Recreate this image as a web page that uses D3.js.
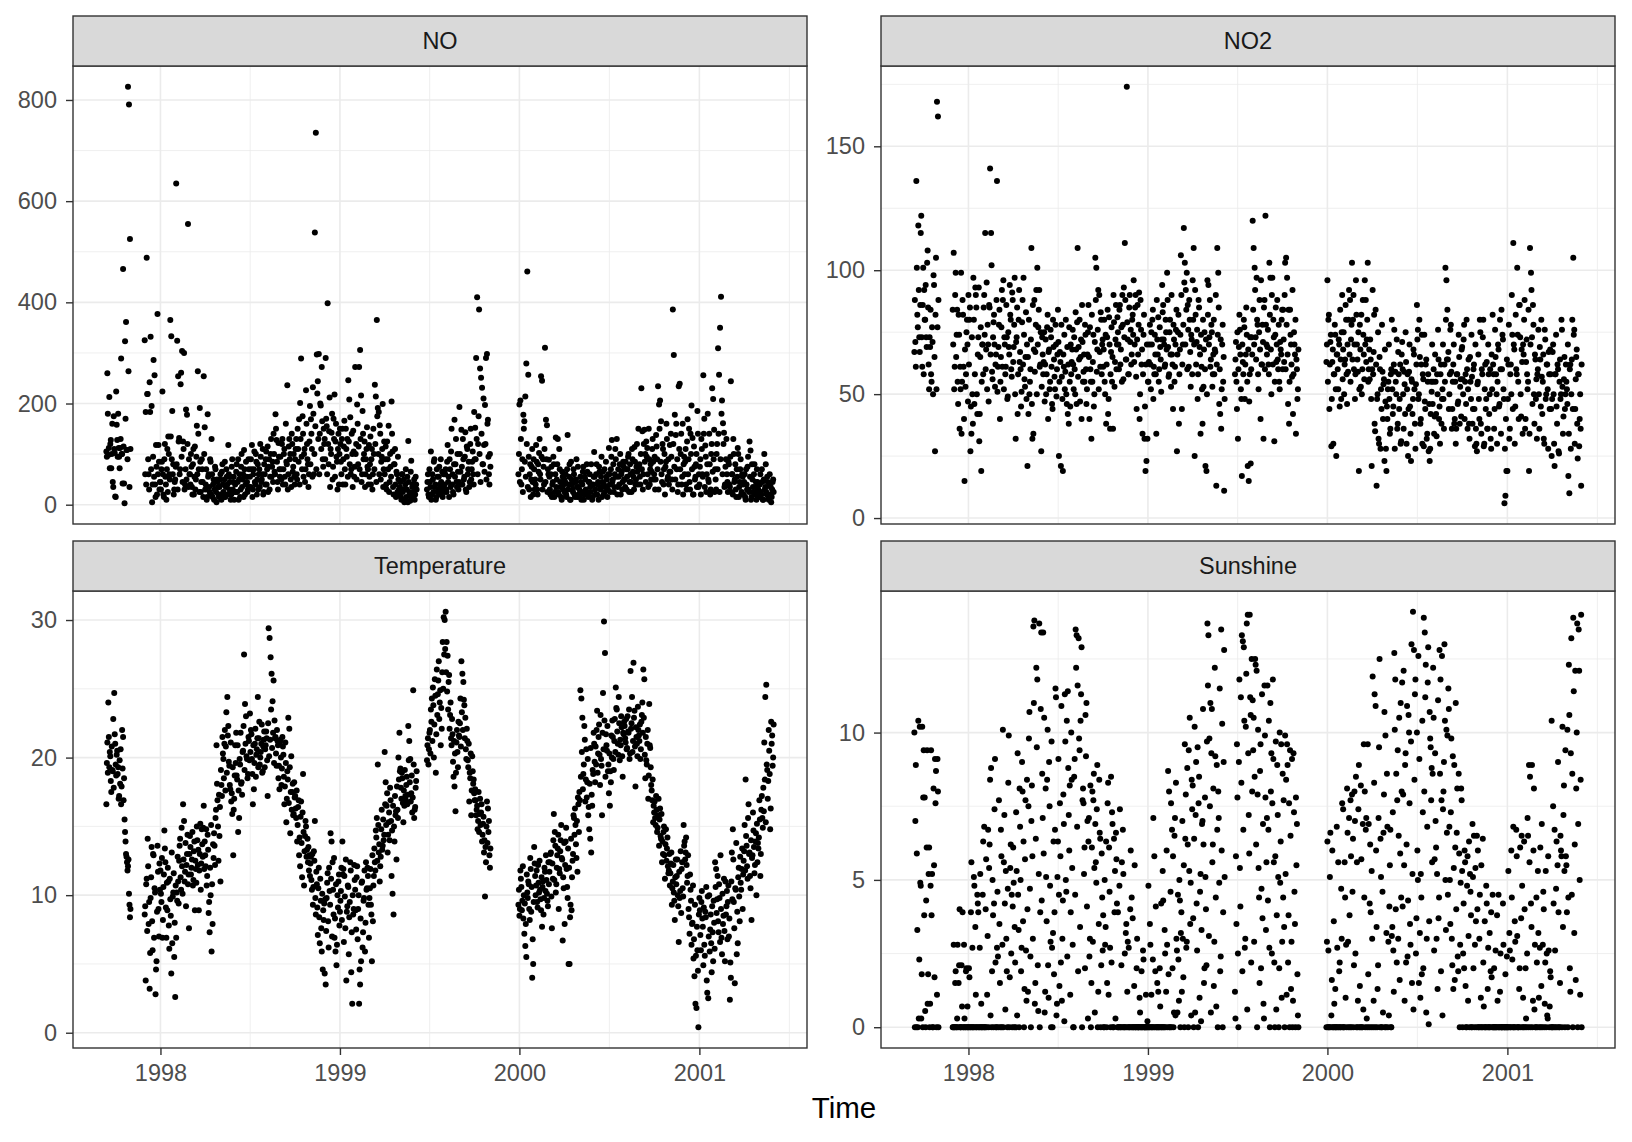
<!DOCTYPE html>
<html>
<head>
<meta charset="utf-8">
<script src="https://cdn.jsdelivr.net/npm/d3@7"></script>
<style>
  body { margin: 0; background: #ffffff; }
  svg { display: block; }
  text { font-family: "Liberation Sans", Arial, Helvetica, sans-serif; }
</style>
</head>
<body>
<svg id="chart" width="1632" height="1142"></svg>
<script>
// ---------------- DATA ----------------
// Daily series. "Even" arrays hold days start+0,2,4,...; "Odd" arrays hold days start+1,3,5,...
const sampleStepDays = 2;
const segmentStarts = ["1997-09-13","1997-11-30","1998-01-01","1998-02-02","1998-03-02","1998-04-01","1998-05-01","1998-06-02","1998-07-02","1998-08-01",
  "1998-09-02","1998-10-02","1998-11-01","1998-12-01","1999-01-02","1999-02-01","1999-03-01","1999-04-02","1999-05-02","1999-06-27",
  "1999-08-02","1999-09-01","1999-10-03","1999-12-30","2000-02-02","2000-03-01","2000-04-02","2000-05-02","2000-06-01","2000-07-01",
  "2000-08-02","2000-09-01","2000-10-01","2000-11-02","2000-12-02","2001-01-01","2001-02-02","2001-03-02","2001-04-01","2001-05-01"];

const panelNames = ["NO", "NO2", "Temperature", "Sunshine"];
const xAxisTitle = "Time";
const yearTicks = ["1998", "1999", "2000", "2001"];
const noTicks = [0, 200, 400, 600, 800];
const no2Ticks = [0, 50, 100, 150];
const tempTicks = [0, 10, 20, 30];
const sunTicks = [0, 5, 10];

const noValues = [
  [105,260,98,213,120,72,160,35,110,16,224,128,180,95,112,289,100,466,42,323,361,108,826,791,525],
  [325,183,488,219,60,242,332,195,40,286,256,15,75,377,118,30],
  [45,70,224,20,90,55,10,110,135,60,365,333,185,80,30,50],
  [635,324,254,132,70,261,304,125,300,40,188,178,555,90],
  [60,100,35,80,20,115,50,156,264,70,191,25,90,45,254],
  [153,40,10,179,60,25,85,130,15,50,30,70,5,45,20],
  [35,60,10,80,25,50,15,70,40,118,30,55,20,90,45,10],
  [40,65,25,90,50,15,75,35,60,108,20,85,45,30,70],
  [55,90,118,30,70,45,100,20,80,60,35,95,50,110,25],
  [60,90,40,115,75,30,100,55,85,140,65,179,128,45,122,70],
  [95,50,130,70,110,40,85,236,60,130,100,35,120,75,55],
  [90,130,50,110,169,201,289,70,140,100,45,226,120,80,60],
  [195,169,110,232,60,538,735,297,244,298,140,196,272,90,150],
  [130,290,155,398,80,212,110,142,50,170,218,125,95,30,140,100],
  [120,60,150,90,166,40,110,130,246,208,173,70,100,146,55],
  [272,120,198,80,272,306,216,60,140,100,35,90,153,70],
  [118,80,40,110,60,100,237,214,365,191,183,157,50,95,199,70],
  [60,115,30,90,156,45,75,204,105,20,80,40,65,25,50],
  [20,45,10,60,30,5,40,15,55,126,25,8,87,35,12,50,20,40],
  [30,60,15,45,105,20,50,85,35,10,70,25,55,40,90,30,15,60],
  [40,70,25,118,55,90,35,150,60,20,168,80,45,100,30],
  [193,65,148,40,90,55,143,25,110,70,35,120,50,85,60,183],
  [152,290,410,120,386,269,251,231,80,118,197,290,298,168,60,100],
  [60,198,206,40,90,178,165,214,279,461,257,30,80,50,110,20,70],
  [50,118,30,80,102,60,254,245,90,40,310,168,157,70],
  [89,30,60,15,45,80,25,133,50,130,20,70,35,10,55,40],
  [25,60,15,138,40,80,10,50,30,70,20,45,90,15,35],
  [30,55,10,40,75,20,50,25,65,15,45,35,80,10,40],
  [104,30,60,20,45,75,35,55,15,65,40,25,85,50,30],
  [112,40,70,128,50,25,60,90,130,35,55,80,20,65,45,75],
  [50,85,30,70,100,45,60,25,90,55,114,40,75,65,150],
  [80,40,230,145,60,148,100,125,112,35,90,70,50,110,85],
  [60,30,138,90,234,198,206,165,45,110,70,20,85,130,55,40],
  [118,140,50,386,296,178,138,70,25,234,239,100,40,160,80],
  [60,110,30,169,90,45,140,196,132,20,75,55,100,185,35],
  [40,90,130,60,256,170,117,25,80,50,140,20,100,230,209,148],
  [70,30,120,309,257,350,411,206,161,142,40,90,60,25],
  [80,35,244,60,20,100,50,30,70,112,15,45,90,25,55],
  [20,60,10,40,75,30,125,107,15,50,25,80,35,10,45],
  [30,15,60,20,45,10,100,35,25,55,15,40,20,5,30,50]
];
const noValuesOdd = [
  [95,180,112,72,128,100,45,175,102,15,158,95,112,72,130,100,42,115,3,170,108,90,264,35,110],
  [60,40,219,90,30,183,70,5,95,55,40,118,20,60,85,45],
  [30,85,60,15,120,40,70,25,100,50,135,90,60,20,45,75],
  [80,30,125,60,238,95,45,110,30,70,50,120,35,60],
  [40,75,20,110,55,30,95,60,140,25,85,45,70,15,100],
  [30,70,15,55,35,90,20,60,40,10,75,25,50,35,15],
  [50,20,65,40,15,85,35,55,20,60,45,10,75,30,55,25],
  [25,80,45,10,60,30,100,50,15,70,40,55,25,90,35],
  [35,70,15,60,105,40,85,50,30,70,120,45,60,20,80],
  [40,105,70,25,90,55,130,75,45,100,60,150,85,30,95,55],
  [70,120,40,100,55,160,80,30,115,90,50,140,65,100,40],
  [110,60,150,85,40,130,95,175,55,110,70,160,90,35,125],
  [80,140,55,180,100,155,70,220,130,60,200,110,165,75,120],
  [90,170,60,120,145,35,100,180,75,130,55,160,85,110,40,150],
  [85,130,40,115,70,150,95,55,125,80,60,140,35,105,75],
  [100,50,160,115,70,130,45,185,90,125,60,110,75,40],
  [55,135,90,30,150,70,120,45,175,100,60,140,85,110,35,125],
  [90,40,125,70,25,100,55,140,35,80,110,15,60,95,30],
  [35,15,60,25,50,10,70,30,5,45,20,65,15,40,25,10,55,30],
  [45,20,70,35,10,60,25,90,40,15,55,30,75,20,45,65,35,25],
  [60,30,85,45,15,70,105,40,25,80,55,130,35,65,45],
  [100,40,75,130,50,95,30,115,60,85,45,150,70,105,40,90],
  [90,130,60,175,100,45,140,80,210,65,120,50,160,95,40,75],
  [100,45,130,70,25,150,85,55,120,35,95,60,15,75,45,90,30],
  [40,85,20,65,130,50,95,30,75,110,45,90,25,60],
  [55,20,75,40,95,15,60,35,80,25,110,45,15,65,30,50],
  [45,20,70,30,55,10,85,40,25,60,15,50,35,75,20],
  [15,45,25,65,10,55,30,80,20,45,60,25,40,15,55],
  [55,20,80,40,10,65,30,95,45,20,70,35,55,15,60],
  [60,25,95,45,80,35,110,55,20,70,40,100,60,30,85,50],
  [35,70,55,95,25,80,45,110,65,30,85,50,120,40,75],
  [55,100,70,30,120,85,45,95,60,150,40,80,65,130,50],
  [95,50,115,70,30,150,85,60,120,40,100,75,160,50,90,65],
  [65,95,30,120,75,50,160,90,40,110,70,140,55,20,95],
  [85,40,125,60,150,30,100,70,20,115,50,80,35,140,60],
  [75,20,110,55,140,35,95,60,180,45,80,30,120,65,90,25],
  [50,100,70,140,25,90,180,60,120,35,75,130,45,85],
  [40,95,25,60,130,45,80,15,55,100,35,70,20,60,40],
  [45,15,70,30,95,25,55,10,80,35,60,20,45,70,25],
  [15,40,25,70,10,50,30,80,20,45,10,60,35,15,45,25]
];

const no2Values = [
  [67,71,136,82,118,73,86,122,61,101,92,80,73,103,85,52,69,58,77,50,94,27,105,168,162],
  [84,107,61,99,74,55,82,36,52,34,88,61,15,53,75,70],
  [90,80,27,34,50,97,46,93,85,42,73,31,65,19,70,58],
  [90,115,68,52,70,86,141,115,59,73,82,53,66,136],
  [61,78,40,65,92,88,52,70,61,73,49,69,94,80,57],
  [88,69,97,32,73,42,80,63,60,51,88,97,56,65,48],
  [21,42,50,60,109,32,34,88,67,92,101,77,92,62,27,73],
  [58,75,62,50,77,40,68,55,73,46,80,64,52,70,60],
  [84,25,67,21,57,19,61,52,80,46,42,38,55,70,63],
  [76,52,60,83,46,109,69,80,65,40,71,59,55,74,46,66],
  [86,40,60,32,55,74,50,105,101,68,92,90,61,80,70],
  [61,80,50,38,73,42,81,36,67,55,36,79,63,86,70],
  [75,60,86,68,55,78,93,111,64,174,72,58,90,76,66],
  [82,96,70,90,44,86,78,40,88,62,34,74,32,19,23,32],
  [55,70,62,75,80,48,58,66,34,72,81,60,69,51,94],
  [86,70,62,75,99,69,58,80,53,66,44,72,61,76],
  [27,75,38,68,106,44,70,117,103,92,99,86,61,80,53,72],
  [96,109,25,82,71,48,88,69,34,61,38,53,75,21,19],
  [96,94,73,61,78,53,66,58,67,13,109,99,46,42,36,70,55,11],
  [58,71,44,32,69,76,52,17,63,80,48,66,74,21,15,58,22,73],
  [120,109,101,73,97,78,52,88,40,62,78,32,88,122,70],
  [69,62,103,97,50,97,80,31,74,63,88,60,55,71,66,84],
  [84,63,103,105,97,46,38,84,70,57,42,75,66,34,60,52],
  [63,96,80,44,71,29,63,30,58,74,25,66,52,70,84,48,90],
  [68,50,64,80,46,59,92,88,72,103,80,60,48,96],
  [70,59,19,78,53,50,88,66,96,88,72,103,60,56,64,21],
  [92,67,38,84,13,50,32,65,28,44,59,54,23,47,19],
  [40,55,48,36,60,52,45,76,59,50,36,67,44,62,31],
  [71,50,59,42,63,52,25,59,45,23,55,48,66,38,54],
  [86,76,50,65,40,74,58,29,47,62,32,55,27,23,42,51],
  [46,60,41,55,33,50,64,45,58,38,52,48,62,101,96],
  [84,67,50,76,59,44,62,38,55,36,58,47,65,53,41],
  [69,50,78,55,46,60,52,38,65,48,57,44,62,29,36,27],
  [55,48,80,38,60,73,29,52,44,63,36,58,50,32,66],
  [82,58,44,65,50,55,68,46,60,84,74,52,6,9,19],
  [19,62,32,58,50,74,111,68,45,60,101,55,86,73,41,63],
  [70,80,36,63,58,55,19,109,99,73,86,50,66,48],
  [32,60,50,69,45,57,55,32,76,48,62,52,67,44,58],
  [25,67,50,21,58,45,62,27,55,48,80,53,41,65,50],
  [55,46,17,10,62,50,80,105,76,44,65,38,58,29,50,13]
];
const no2ValuesOdd = [
  [88,61,101,77,92,67,115,73,86,58,80,94,69,108,62,73,84,55,71,98,65,82,52,77,88],
  [70,52,90,65,84,46,74,61,99,55,82,40,68,58,80,47],
  [62,85,45,73,38,80,58,90,50,66,93,42,77,55,70,85],
  [74,60,95,78,47,85,66,102,56,79,70,62,88,51],
  [69,84,55,77,61,96,73,58,86,48,75,66,82,60,91],
  [63,78,50,71,85,58,92,67,45,79,62,74,53,83,70],
  [65,80,55,72,46,86,68,59,78,50,70,84,61,75,53,66],
  [63,47,72,58,82,67,52,76,61,44,69,57,78,49,66],
  [71,55,63,78,48,66,74,59,50,69,62,77,45,58,68],
  [62,73,50,68,79,57,64,47,72,86,55,66,78,60,52,75],
  [65,77,55,82,63,45,71,88,59,76,52,67,83,58,72],
  [68,55,74,62,84,48,70,58,77,65,90,53,72,60,81],
  [70,84,62,77,90,56,73,88,64,79,58,85,71,62,80],
  [74,63,85,57,72,66,91,50,76,68,58,82,45,62,70,55],
  [63,78,52,70,84,61,74,58,88,66,55,77,64,72,83],
  [72,61,80,68,88,57,75,66,90,62,78,55,70,84],
  [66,82,58,74,90,62,78,95,70,84,60,76,88,67,74,58],
  [80,70,92,62,76,58,85,66,74,52,80,68,60,72,50],
  [82,70,88,64,75,58,80,68,90,62,74,85,60,72,52,78,65,48],
  [64,55,75,60,82,66,48,70,58,77,62,85,55,68,47,73,60,66],
  [84,70,92,64,80,58,75,68,96,62,71,85,60,78,66],
  [76,58,82,68,90,62,73,55,85,70,64,78,52,68,80,60],
  [72,90,60,78,66,84,55,74,62,92,58,70,80,64,48,68],
  [70,55,82,62,74,48,68,58,78,52,66,60,72,45,64,75,56],
  [75,62,86,58,70,80,66,55,78,64,90,70,58,82],
  [64,75,52,68,82,60,74,56,70,63,80,55,68,72,48,60],
  [58,82,35,62,48,75,30,60,52,78,40,56,68,28,45],
  [52,70,34,58,80,42,62,28,55,72,38,58,48,30,66],
  [60,36,54,75,30,58,44,70,34,56,42,68,52,28,62],
  [72,48,80,38,62,30,56,74,44,64,34,58,46,28,55,70],
  [55,34,66,42,58,76,40,30,62,48,70,36,55,80,64],
  [64,44,58,78,36,55,70,40,30,58,46,74,38,56,68],
  [56,72,40,58,80,36,64,32,55,74,38,60,44,70,30,54],
  [66,40,75,34,58,80,30,62,48,36,70,42,60,28,52],
  [62,36,76,58,30,70,45,80,34,60,72,48,28,40,64],
  [48,78,36,62,90,44,70,30,82,58,74,40,86,50,68,34],
  [66,88,40,72,52,84,34,70,92,46,78,38,64,56],
  [58,76,36,64,80,42,66,30,72,50,62,28,58,68,44],
  [48,70,30,58,74,38,60,26,64,50,76,34,56,44,62],
  [52,70,34,60,28,64,44,74,30,56,68,24,58,40,36,62]
];

const temperatureValues = [
  [16.6,21.1,24.0,19.3,20.1,17.5,19.1,22.8,24.7,21.0,18.7,20.5,19.3,17.2,18.1,16.6,22.0,21.5,18.5,14.6,13.0,12.4,12.1,10.1,8.4],
  [8.6,3.8,11.2,14.1,7.9,3.2,9.8,13.5,6.0,12.9,10.5,2.8,5.2,13.6,9.0,12.3],
  [11.8,9.5,6.9,10.6,14.7,12.4,6.9,8.9,11.0,6.1,9.7,4.3,6.5,10.2,5.5,2.6],
  [6.9,9.6,11.0,12.5,14.1,10.4,12.1,16.6,15.4,11.7,9.2,13.0,10.8,7.6],
  [14.3,11.5,12.6,10.7,13.2,8.9,11.9,15.0,12.2,8.9,13.0,10.4,14.8,12.8,16.5],
  [13.9,12.1,10.7,14.4,8.7,7.3,10.0,5.9,7.9,12.7,13.6,15.6,20.9,16.9,12.5],
  [14.3,11.0,18.0,21.5,19.9,21.0,17.6,23.3,24.4,22.3,19.4,17.7,16.8,15.9,12.9,17.0],
  [20.9,21.8,18.4,14.6,15.6,19.5,18.1,17.3,20.5,27.5,23.9,23.0,19.9,18.8,21.2],
  [23.2,22.0,19.9,16.6,17.7,21.0,18.6,20.6,24.4,21.4,19.5,20.4,22.4,19.0,21.3],
  [19.3,20.9,21.4,17.2,29.4,28.7,27.3,26.1,24.1,25.6,22.7,21.5,19.4,21.2,18.5,17.7],
  [21.3,18.0,21.5,20.2,16.6,21.1,15.3,19.0,22.9,22.1,14.5,20.1,17.5,15.8,18.2],
  [17.2,15.6,13.9,16.4,12.9,12.1,16.8,11.3,18.8,10.7,14.3,15.0,13.3,12.4,11.8],
  [11.4,12.8,10.4,9.3,13.2,15.4,8.6,10.8,7.1,12.0,6.5,9.6,5.9,4.6,8.2],
  [4.3,3.5,9.8,11.6,6.2,10.3,14.5,13.9,12.4,8.6,6.9,5.9,4.9,10.0,11.0,7.8],
  [9.6,12.0,13.9,11.9,11.4,7.6,3.8,9.2,10.6,8.4,12.4,4.4,2.1,8.6,12.2],
  [10.4,7.5,12.1,9.0,2.1,3.5,5.2,11.0,7.3,9.8,5.9,12.4,10.5,11.4],
  [6.9,10.5,9.3,5.2,8.1,11.4,12.4,14.7,15.6,19.5,13.1,11.0,12.8,16.2,13.6,14.0],
  [20.4,18.2,16.5,13.1,15.3,14.0,16.9,11.4,10.1,8.6,13.9,15.8,12.6,16.2,20.0],
  [21.8,19.2,17.0,18.5,15.3,16.5,17.2,18.0,16.6,22.3,21.2,19.9,17.4,16.0,24.9,15.6,16.4,18.3],
  [19.8,21.4,20.6,22.0,23.5,24.3,25.1,20.0,25.7,18.9,26.4,24.6,27.0,24.0,20.9,22.1,28.4,30.2],
  [30.0,30.6,28.4,27.4,25.5,22.1,24.0,20.9,21.7,18.6,17.9,16.1,21.1,20.4,22.6],
  [21.5,24.3,27.0,26.1,25.5,23.8,22.9,19.9,21.2,19.3,16.8,18.5,15.8,20.1,18.1,17.4],
  [17.7,15.8,16.5,15.4,14.6,17.0,16.0,13.9,15.2,13.1,9.9,12.4,16.8,16.3,15.4,12.0],
  [9.3,8.5,11.8,10.6,9.6,8.3,7.2,6.3,5.5,10.2,11.0,9.0,12.7,8.8,4.0,5.0,13.5],
  [11.4,10.7,9.5,12.2,10.2,10.4,8.9,7.7,11.0,9.8,11.7,12.9,10.1,9.2],
  [10.8,12.4,13.1,7.6,11.2,15.9,14.6,10.2,12.0,13.4,9.0,11.6,14.0,12.7,6.7,10.5],
  [7.9,13.9,11.9,9.8,5.0,5.0,9.3,8.9,12.5,15.8,14.4,15.1,12.7,11.7,16.6],
  [17.5,24.9,24.3,22.9,18.8,22.3,16.8,20.6,18.2,15.8,14.8,14.1,13.1,16.5,18.8],
  [21.0,18.2,19.5,23.4,20.3,22.4,18.0,19.9,15.8,24.7,29.9,27.6,21.7,20.5,19.0],
  [17.4,16.5,18.2,20.0,21.5,19.1,22.8,25.1,23.5,21.0,24.4,19.8,20.9,22.2,18.6,21.7],
  [22.3,21.1,20.6,23.0,21.8,19.9,26.3,22.5,20.4,26.9,23.4,17.9,21.5,20.1,22.0],
  [21.2,19.9,22.6,24.0,26.4,25.7,18.5,19.8,21.0,17.0,23.9,20.7,18.0,16.9,15.3],
  [16.0,15.6,17.2,14.6,15.8,13.6,16.3,14.1,12.4,13.0,15.0,11.2,14.8,13.4,12.1,11.8],
  [10.7,12.3,9.3,11.0,10.2,8.2,12.6,11.4,10.0,6.6,9.8,13.2,11.9,10.5,15.1],
  [13.9,13.1,12.2,11.4,9.0,7.2,10.4,6.4,8.0,5.4,4.1,2.1,1.8,6.0,0.4],
  [9.8,7.1,9.5,8.3,4.9,6.4,8.8,10.6,2.9,2.5,10.0,7.5,6.5,9.2,5.2,8.0],
  [12.4,11.9,9.7,8.1,10.8,6.6,9.0,5.7,7.9,11.2,5.2,8.6,10.3,9.5],
  [7.0,2.4,4.0,13.1,14.8,9.5,3.6,10.4,5.7,6.5,12.0,8.1,10.9,11.9,9.0],
  [12.5,15.1,18.4,13.6,11.2,16.6,13.1,10.5,8.2,12.9,14.7,11.6,13.9,10.0,12.4],
  [13.4,16.9,11.4,16.2,15.6,17.8,21.1,24.4,25.3,19.1,18.3,20.5,14.8,22.6,21.6,20.0]
];
const temperatureValuesOdd = [
  [19.6,18.9,21.5,20.4,18.3,20.8,19.0,17.8,21.7,19.5,20.2,18.8,17.0,19.8,20.6,17.9,19.2,16.9,15.5,13.9,12.8,11.8,12.6,9.3,9.0],
  [9.2,10.8,7.4,12.1,9.5,5.8,11.3,8.1,13.0,6.9,10.2,4.6,8.8,11.7,7.0,10.4],
  [10.1,12.7,8.2,11.5,13.4,9.1,10.9,12.0,7.8,11.2,8.5,13.1,9.9,11.6,8.0,10.7],
  [10.2,12.8,9.4,13.6,11.3,14.9,10.1,12.6,11.0,13.8,12.2,14.4,11.5,13.0],
  [13.5,12.0,14.6,11.1,13.9,12.5,10.9,14.0,13.3,11.8,15.2,12.3,13.7,14.9,11.9],
  [12.9,14.8,11.4,13.3,9.5,12.0,15.1,10.8,13.7,14.5,12.2,16.2,18.1,15.0,17.3],
  [16.4,19.1,17.2,20.3,18.5,22.0,20.8,18.9,21.6,19.7,18.0,21.1,17.4,19.3,16.2,18.7],
  [19.6,18.7,20.9,17.6,19.9,21.8,18.2,20.4,22.3,19.1,21.0,20.1,18.5,21.5,19.8],
  [20.4,21.7,18.8,20.9,19.6,22.1,20.2,21.4,19.3,22.6,20.0,21.0,18.9,20.8,21.9],
  [20.6,21.9,19.8,22.5,20.1,21.3,23.5,20.7,21.8,19.6,21.4,20.3,22.0,20.9,19.4,21.1],
  [20.0,19.2,20.8,18.6,17.9,19.6,17.0,18.4,16.7,19.3,17.5,16.2,18.1,15.9,17.1],
  [16.3,17.6,15.1,16.9,14.2,15.7,13.8,16.0,14.6,13.2,15.4,12.8,14.1,13.5,12.9],
  [12.3,11.1,13.0,10.6,12.5,9.8,11.7,9.1,10.5,8.4,11.2,7.6,10.1,8.9,9.4],
  [9.7,7.4,10.9,8.1,12.0,9.3,11.2,7.0,10.4,12.7,8.3,10.8,6.4,9.1,11.5,8.8],
  [10.3,8.2,11.5,6.6,9.9,12.6,8.8,10.7,5.7,9.5,11.8,7.3,10.0,9.0,11.1],
  [8.9,11.3,6.8,10.0,4.6,8.3,10.9,6.2,9.6,11.8,8.0,10.4,12.0,9.3],
  [9.8,11.9,8.6,12.9,10.7,13.4,11.8,14.2,12.5,15.1,13.7,12.1,14.8,13.3,15.5,14.4],
  [16.6,15.1,17.4,14.4,16.0,17.8,15.4,14.7,16.5,15.0,17.2,16.1,17.9,15.6,18.4],
  [19.0,17.8,18.9,16.7,17.6,19.1,16.9,18.6,17.3,19.8,18.2,16.8,18.7,17.1,19.5,16.2,17.8,19.0],
  [20.9,19.5,21.8,20.3,22.6,21.2,23.8,22.4,24.5,21.7,23.1,25.6,22.8,24.9,23.6,26.2,25.0,27.5],
  [27.9,26.2,24.8,23.5,26.0,23.1,21.4,22.8,19.7,21.2,20.3,18.9,22.0,19.3,21.6],
  [22.5,20.8,23.3,22.0,24.2,21.4,20.6,22.1,19.8,21.0,18.9,20.3,17.6,19.0,18.4,16.9],
  [16.9,16.2,14.8,17.5,15.9,15.1,16.6,14.4,15.7,14.0,13.5,15.0,13.8,14.6,12.9,13.4],
  [10.4,9.0,11.2,8.9,12.1,10.0,9.4,7.9,11.5,9.8,10.8,8.2,11.9,10.6,6.8,9.5,12.3],
  [10.0,11.8,9.1,10.9,12.5,9.7,11.3,10.6,8.6,12.0,10.3,11.1,9.6,12.4],
  [11.7,13.0,9.9,12.3,14.0,11.1,13.6,10.8,12.9,14.4,11.9,13.2,15.1,12.6,11.3,13.8],
  [12.2,14.9,10.6,13.4,12.0,8.4,14.1,11.3,13.0,15.6,16.3,13.7,15.4,17.1,14.6],
  [16.9,18.6,20.4,17.7,19.5,21.3,18.4,17.1,19.9,16.4,18.1,20.7,17.3,19.1,21.8],
  [19.7,20.8,22.0,18.9,21.5,20.2,23.1,19.4,21.8,20.6,22.7,18.6,20.9,22.3,19.5],
  [20.3,19.0,21.6,22.7,19.9,21.2,20.4,23.6,21.9,20.2,22.5,21.3,23.0,20.1,21.8,22.6],
  [21.4,22.8,20.7,21.9,23.5,20.3,22.1,24.4,21.2,22.9,20.8,22.2,21.0,23.7,21.6],
  [22.4,20.6,23.1,21.8,22.9,20.2,21.5,19.5,22.0,18.7,20.9,19.3,17.6,18.4,16.5],
  [16.8,15.1,16.2,14.9,17.0,15.5,14.3,15.9,13.9,14.6,12.9,13.7,12.5,14.2,11.6,13.0],
  [11.6,13.1,10.5,12.2,9.6,11.3,10.8,12.6,9.2,11.7,10.3,8.7,12.4,9.9,13.6],
  [12.6,14.2,10.9,12.9,8.4,11.5,9.6,7.9,10.7,6.8,9.3,5.6,7.7,4.5,8.6],
  [8.9,6.0,10.3,7.7,9.1,5.6,8.4,3.8,9.9,7.0,5.9,8.6,4.4,7.3,9.6,6.1],
  [10.6,8.7,11.4,7.3,9.8,12.9,6.9,10.1,8.5,7.4,11.0,9.2,6.8,10.7],
  [8.3,5.1,11.0,9.7,12.6,7.6,10.5,13.8,8.8,11.3,9.9,12.8,10.4,13.4,11.5],
  [13.2,11.8,14.3,12.1,15.6,13.0,11.4,14.0,12.7,16.0,13.5,12.2,14.5,15.2,13.8],
  [14.2,15.5,13.0,17.2,14.9,16.1,18.4,15.3,19.5,17.0,22.0,18.8,16.3,21.0,19.4,22.4]
];

const sunshineValues = [
  [10.0,7.0,0,3.3,10.4,2.3,4.9,0.3,10.2,7.8,3.8,0.55,4.3,9.4,1.8,6.1,0.8,9.4,5.2,0,5.5,9.1,8.7,1.1,8.0],
  [0,2.8,0,1.9,0,2.8,1.5,4.0,0,2.1,3.9,0,0.3,0,2.0,0.7],
  [0,1.7,0,5.6,2.7,0,4.8,3.4,0,4.5,3.9,0,5.2,0.8,0,6.3],
  [6.8,0,5.7,1.1,6.7,5.4,8.4,8.8,1.9,3.8,4.2,9.1,0,2.7],
  [2.4,7.7,1.5,6.7,0,10.1,5.6,4.2,5.3,1.9,4.7,9.9,1.7,6.2,4.5],
  [4.1,4.9,3.4,0,5.3,9.3,3.3,8.1,5.0,2.7,8.0,6.3,1.3,7.7,0.9],
  [4.0,7.5,10.7,2.4,7.0,5.8,13.6,13.8,1.5,12.2,11.8,0.55,13.7,3.9,13.4,8.6],
  [13.4,10.5,1.2,5.1,8.4,2.1,9.0,4.8,0,2.7,3.2,1.8,6.7,11.2,0.8],
  [6.3,4.5,7.6,2.2,0.9,4.3,6.9,11.3,5.0,10.4,11.4,7.2,8.2,3.9,8.4],
  [2.8,0,9.1,13.5,13.3,11.6,13.2,9.4,10.4,12.9,7.7,7.6,6.1,10.6,11.0,7.0],
  [6.3,2.4,8.2,1.5,8.0,7.7,5.4,6.9,4.9,8.9,1.2,8.4,6.4,2.1,4.4],
  [3.8,0,2.8,6.3,1.5,8.3,6.1,2.7,8.5,7.3,0,6.4,5.3,6.6,4.2],
  [3.9,0,7.4,0,5.6,6.7,0,2.5,3.2,0,2.9,2.7,0,6.0,4.4],
  [3.7,0,5.5,0,2.0,0,0,1.0,0,1.9,0,2.3,0,0,0,0.2],
  [4.8,0,2.8,1.1,0,7.1,5.8,1.9,0,1.5,1.2,0,0.7,4.2,0],
  [4.3,0,2.5,1.2,2.8,8.7,8.0,0,7.6,6.7,5.8,0.5,7.1,8.3],
  [2.6,4.5,0.9,4.3,3.2,1.2,3.0,5.5,9.6,7.9,2.9,6.2,9.4,10.5,4.9,8.4],
  [8.2,0,10.2,7.2,4.2,9.5,7.6,1.0,5.2,3.3,7.0,6.2,2.0,5.1,2.1],
  [13.7,13.3,9.8,11.0,9.3,5.6,8.1,2.9,9.2,0.7,6.7,8.0,4.9,1.9,13.5,10.3,3.9,12.8],
  [1.2,5.8,9.6,2.5,9.0,5.4,11.2,13.3,13.1,12.9,2.7,10.2,13.7,14.0,7.2,14.0,10.6,12.5],
  [11.1,10.5,8.5,12.3,12.1,7.9,5.4,1.5,9.6,4.7,3.7,0.8,11.6,7.8,5.6],
  [11.6,6.7,2.7,11.0,9.3,7.6,9.1,2.2,5.8,0.6,8.9,5.1,2.0,4.9,9.6,2.9],
  [4.4,3.4,9.9,8.4,9.6,2.2,7.6,9.4,1.3,9.1,0.9,7.3,3.5,7.8,6.9,0.4],
  [0,6.3,2.6,0,6.6,0.4,6.0,0,0.8,1.3,0,2.7,5.6,1.9,0,4.7,7.6],
  [7.4,0,4.4,2.8,8.1,2.9,7.1,0,5.8,7.9,6.4,2.1,7.0,8.5],
  [5.6,0.9,8.9,1.4,8.2,0,6.9,9.6,8.0,6.7,0.3,9.6,6.9,4.2,3.9,5.3],
  [11.9,0.9,11.3,10.9,3.4,1.3,7.1,12.5,6.4,0,4.6,6.6,10.7,9.9,3.2],
  [6.8,2.9,4.1,6.7,0,3.4,2.6,12.7,11.8,8.6,7.7,3.0,10.5,5.9,4.4],
  [11.7,7.9,5.5,8.9,2.2,10.9,4.3,10.0,3.5,9.7,1.5,14.1,12.8,11.3,2.5],
  [10.0,5.0,1.5,3.2,5.2,1.8,7.3,13.9,13.4,12.3,3.0,11.7,0.1,10.7,9.5,8.8],
  [8.6,10.5,5.7,7.0,3.0,1.3,3.7,12.8,11.8,7.7,0.4,8.0,13.0,5.0,10.1],
  [9.9,11.5,6.8,3.5,9.8,2.1,1.3,8.9,6.1,4.0,8.1,1.9,5.9,2.8,8.1],
  [5.3,2.5,2.0,5.6,0,4.8,0.9,6.3,5.2,3.8,0,5.1,6.5,2.8,3.6,6.5],
  [6.0,0,4.5,1.0,0,6.4,0.7,3.6,0,4.2,1.3,0,3.2,1.9,1.7],
  [4.5,0,0,2.6,0,0.9,4.5,0,2.5,0,0,2.8,0,1.8,0],
  [0,5.3,3.2,0,6.0,2.3,6.8,0,2.9,6.7,3.1,0,1.3,6.1,3.7,4.8],
  [1.0,6.3,0,0.3,2.5,6.5,8.9,8.5,4.2,8.9,0.9,8.1,2.8,0],
  [2.2,5.3,1.0,2.7,0,6.9,2.8,4.0,0.8,5.3,2.5,0.3,2.6,0.7,1.7],
  [10.4,0,4.2,6.7,0,6.3,5.5,3.9,0,6.5,5.8,10.2,7.2,5.3,9.4],
  [5.5,10.1,4.4,10.6,1.2,13.2,8.6,13.9,3.2,12.1,8.1,13.7,6.9,12.1,1.1,14.0]
];
const sunshineValuesOdd = [
  [0,8.9,5.9,0,0.3,10.2,4.8,1.8,0,9.4,7.8,0,6.1,0.8,5.2,0,4.8,3.8,0,8.1,1.7,7.6,0,9.1,0],
  [0,0,1.5,0,0.3,0,2.1,0,0,0.7,0,2.8,0,1.9,0,0],
  [2.0,0,3.9,0,0,5.1,0,1.1,0,4.2,0,2.7,0,0,4.5,0],
  [0,4.0,0,3.1,0,6.2,0.4,0,5.0,0,7.4,2.2,0,4.6],
  [0,3.5,0,5.8,2.8,0,7.2,0.6,3.0,0,8.3,0,5.4,2.5,0],
  [6.1,0,2.2,7.3,0.4,4.5,0,6.8,1.9,9.0,3.6,0,5.7,2.6,8.4],
  [1.2,9.8,4.7,0,8.2,3.0,11.0,0.8,6.4,9.5,2.1,5.2,0,10.8,4.3,7.1],
  [5.9,0.5,8.1,3.6,10.1,1.0,7.5,2.9,9.7,0,6.3,3.9,11.5,0.4,5.1],
  [9.1,1.4,5.8,10.9,3.0,7.9,0.2,9.7,4.6,2.4,8.8,6.0,1.1,10.0,5.4],
  [0,8.5,4.5,12.2,6.8,1.9,9.8,3.4,11.3,0,8.1,5.2,2.0,9.2,4.1,0.3],
  [7.1,3.0,0,6.1,2.9,8.6,0.5,5.6,7.4,0,3.5,6.6,0,5.9,2.6],
  [0,5.0,3.4,0,7.6,1.1,4.6,0,2.2,6.9,0,3.9,0.3,5.7,0],
  [0,4.8,0,2.1,0,5.2,0,0,3.5,1.2,0,0,4.0,0,0],
  [0,1.4,0,0,3.0,0,0,0.5,0,0,2.6,0,0,1.1,0,0],
  [0,3.5,0,0,2.3,0,0,4.1,0,0,0,2.0,0,0,5.3],
  [0,3.3,0,6.0,0,1.8,0,4.6,0,2.0,0,6.5,0.4,3.0],
  [0.5,2.3,5.0,0,3.9,7.0,1.7,0,6.4,2.7,8.8,0,5.3,3.5,0.4,7.4],
  [3.7,6.4,0.5,9.0,2.6,0,8.5,4.6,0.2,6.9,10.8,1.5,7.8,4.0,9.7],
  [11.6,3.1,7.5,0.5,10.8,6.2,1.4,12.2,4.4,8.9,0,7.1,11.5,2.4,6.0,0,9.0,5.1],
  [0.3,3.5,7.8,0,11.8,4.1,8.3,1.9,6.7,10.4,3.0,12.0,0.6,9.3,5.9,11.2,2.2,8.0],
  [9.4,2.9,12.5,6.2,0,10.1,4.4,8.7,2.0,11.3,6.9,0.3,9.9,3.3,7.1],
  [4.3,10.4,0,8.0,2.5,11.8,5.6,0,9.7,3.8,7.2,0,10.0,6.3,1.0,8.6],
  [7.7,0,5.2,1.1,8.9,3.8,0,6.5,2.9,0,9.3,4.6,0,5.5,1.8,0],
  [2.9,0,0,5.1,0,1.6,0,3.6,0,0,6.8,0,0,2.2,0,3.0,0],
  [0,5.6,1.0,0,6.6,0,3.8,7.7,0,4.6,0,8.0,2.5,0],
  [0,7.4,0,0,5.7,0,0.6,4.4,0,7.1,0,1.8,0,6.2,0,3.0],
  [0,8.3,0,6.0,0,2.1,9.5,0,5.1,0,0.5,7.9,0,0,8.6],
  [0,0.4,5.5,0,3.1,7.3,1.2,10.1,4.0,2.2,9.4,6.5,1.6,11.0,8.0],
  [4.1,12.1,0.9,9.3,6.2,2.4,10.6,7.6,2.8,13.0,5.2,0.6,8.4,11.8,3.7],
  [6.0,12.6,9.1,1.0,4.4,10.4,2.0,8.0,11.2,0.5,6.8,12.9,3.6,9.8,7.7,5.6],
  [12.2,2.6,9.3,6.1,5.2,11.1,4.4,8.6,1.9,12.6,7.4,9.0,10.4,3.3,6.6],
  [4.5,10.8,5.0,7.3,3.0,9.2,5.4,1.6,11.0,6.6,2.4,8.6,0,4.9,7.7],
  [0,4.2,6.0,1.4,0,5.8,3.1,0,4.6,0,6.9,2.0,0,5.4,0,4.0],
  [0,3.0,0,5.5,0,2.2,0,0,4.8,0,2.7,0,0,3.9,0],
  [0,2.0,0,0,3.8,0,0,1.2,0,0,4.2,0,0,0,2.4],
  [0,0,2.6,0,4.4,0,0,3.6,0,5.8,0,0,2.0,0,6.5,0],
  [0,4.0,2.0,0,7.1,0,5.6,0,3.4,0,6.0,0.6,0,4.4],
  [0,3.2,0,6.1,1.4,0,4.6,0,2.2,0,0.4,5.8,0,1.9,0],
  [0,7.5,0,2.6,4.7,0,9.0,0,1.5,6.0,0,3.4,8.2,0,5.8],
  [3.9,0,12.3,2.0,9.3,4.5,0,11.4,6.2,1.6,10.0,0,13.5,5.0,8.4,0]
];

// ---------------- BUILD ----------------
const parseDate = d3.utcParse("%Y-%m-%d");
const parseYear = d3.utcParse("%Y");

function buildSeries(segs, offsetDays) {
  const out = [];
  segs.forEach((vals, k) => {
    const s = parseDate(segmentStarts[k]);
    vals.forEach((v, j) => {
      if (v !== null && v !== undefined)
        out.push({ date: d3.utcDay.offset(s, sampleStepDays * j + offsetDays), value: v });
    });
  });
  return out;
}
function series(even, odd) { return buildSeries(even, 0).concat(buildSeries(odd, 1)); }

const panels = [
  { name: panelNames[0], data: series(noValues, noValuesOdd), ticks: noTicks, col: 0, row: 0 },
  { name: panelNames[1], data: series(no2Values, no2ValuesOdd), ticks: no2Ticks, col: 1, row: 0 },
  { name: panelNames[2], data: series(temperatureValues, temperatureValuesOdd), ticks: tempTicks, col: 0, row: 1 },
  { name: panelNames[3], data: series(sunshineValues, sunshineValuesOdd), ticks: sunTicks, col: 1, row: 1 }
];

// layout
const colX = [73, 881];
const panelW = 734;
const stripTop = [16, 541];
const stripH = 50;
const plotH = [458, 457];
const fontSize = 23.5;
const tickLen = 7;
const gridCol = "#EBEBEB";
const lineCol = "#333333";

// shared x domain (5% expansion)
const allDates = panels.flatMap(p => p.data.map(d => d.date));
const [d0, d1] = d3.extent(allDates);
const xPad = (d1 - d0) * 0.05;
const xDomain = [new Date(+d0 - xPad), new Date(+d1 + xPad)];
const yearDates = yearTicks.map(parseYear);
const xMinor = [];
for (let i = 0; i <= yearDates.length; i++) {
  let a, b;
  if (i === 0) { a = +yearDates[0] - (yearDates[1] - yearDates[0]); b = +yearDates[0]; }
  else if (i === yearDates.length) { a = +yearDates[i - 1]; b = +yearDates[i - 1] + (yearDates[i - 1] - yearDates[i - 2]); }
  else { a = +yearDates[i - 1]; b = +yearDates[i]; }
  const m = new Date((a + b) / 2);
  if (m >= xDomain[0] && m <= xDomain[1]) xMinor.push(m);
}

const svg = d3.select("#chart");
svg.append("rect").attr("width", 1632).attr("height", 1142).attr("fill", "#ffffff");

panels.forEach(p => {
  const left = colX[p.col];
  const top = stripTop[p.row] + stripH;
  const h = plotH[p.row];

  const x = d3.scaleUtc().domain(xDomain).range([0, panelW]);
  const [v0, v1] = d3.extent(p.data, d => d.value);
  const yPad = (v1 - v0) * 0.05;
  const y = d3.scaleLinear().domain([v0 - yPad, v1 + yPad]).range([h, 0]);

  const g = svg.append("g").attr("transform", `translate(${left},${top})`);

  // minor gridlines
  const step = p.ticks[1] - p.ticks[0];
  const yMinor = [];
  for (let t = p.ticks[0] - step / 2; t <= p.ticks[p.ticks.length - 1] + step / 2 + 1e-9; t += step) {
    if (t >= y.domain()[0] && t <= y.domain()[1]) yMinor.push(t);
  }
  g.selectAll(".yminor").data(yMinor).enter().append("line")
    .attr("x1", 0).attr("x2", panelW).attr("y1", d => y(d)).attr("y2", d => y(d))
    .attr("stroke", gridCol).attr("stroke-width", 0.8);
  g.selectAll(".xminor").data(xMinor).enter().append("line")
    .attr("y1", 0).attr("y2", h).attr("x1", d => x(d)).attr("x2", d => x(d))
    .attr("stroke", gridCol).attr("stroke-width", 0.8);
  // major gridlines
  g.selectAll(".ymajor").data(p.ticks).enter().append("line")
    .attr("x1", 0).attr("x2", panelW).attr("y1", d => y(d)).attr("y2", d => y(d))
    .attr("stroke", gridCol).attr("stroke-width", 1.6);
  g.selectAll(".xmajor").data(yearDates).enter().append("line")
    .attr("y1", 0).attr("y2", h).attr("x1", d => x(d)).attr("x2", d => x(d))
    .attr("stroke", gridCol).attr("stroke-width", 1.6);

  // points
  g.selectAll("circle").data(p.data).enter().append("circle")
    .attr("cx", d => x(d.date)).attr("cy", d => y(d.value))
    .attr("r", 3.0).attr("fill", "#000000");

  // panel border
  g.append("rect").attr("x", 0).attr("y", 0).attr("width", panelW).attr("height", h)
    .attr("fill", "none").attr("stroke", lineCol).attr("stroke-width", 1.4);

  // strip
  const s = svg.append("g").attr("transform", `translate(${left},${stripTop[p.row]})`);
  s.append("rect").attr("x", 0).attr("y", 0).attr("width", panelW).attr("height", stripH)
    .attr("fill", "#D9D9D9").attr("stroke", lineCol).attr("stroke-width", 1.4);
  s.append("text").attr("x", panelW / 2).attr("y", stripH / 2).attr("dy", "0.36em")
    .attr("text-anchor", "middle").attr("font-size", fontSize).attr("fill", "#1A1A1A").text(p.name);

  // y axis
  const ya = g.append("g").call(d3.axisLeft(y).tickValues(p.ticks).tickSize(tickLen).tickPadding(9));
  ya.select(".domain").remove();
  ya.selectAll(".tick line").attr("stroke", lineCol).attr("stroke-width", 1.4);
  ya.selectAll(".tick text").attr("font-size", fontSize).attr("fill", "#4D4D4D")
    .attr("font-family", "'Liberation Sans', Arial, Helvetica, sans-serif");

  // x axis (bottom row only)
  if (p.row === 1) {
    const xa = g.append("g").attr("transform", `translate(0,${h})`)
      .call(d3.axisBottom(x).tickValues(yearDates).tickFormat(d3.utcFormat("%Y")).tickSize(tickLen).tickPadding(9));
    xa.select(".domain").remove();
    xa.selectAll(".tick line").attr("stroke", lineCol).attr("stroke-width", 1.4);
    xa.selectAll(".tick text").attr("font-size", fontSize).attr("fill", "#4D4D4D")
      .attr("font-family", "'Liberation Sans', Arial, Helvetica, sans-serif");
  }
});

// axis title
svg.append("text").attr("x", (colX[0] + colX[1] + panelW) / 2).attr("y", 1118)
  .attr("text-anchor", "middle").attr("font-size", 29.5).attr("fill", "#000000").text(xAxisTitle);
</script>
</body>
</html>
